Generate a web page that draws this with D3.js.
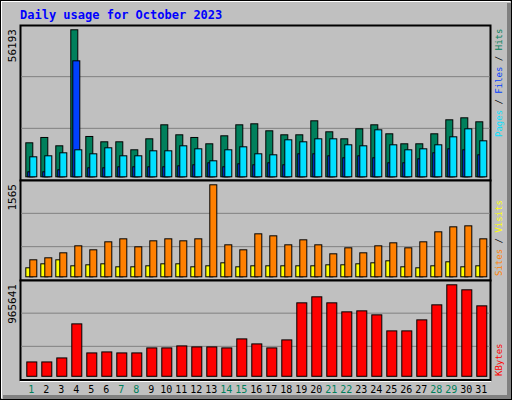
<!DOCTYPE html>
<html><head><meta charset="utf-8">
<script src="https://cdn.jsdelivr.net/npm/d3@7"></script>
<style>body{margin:0;background:#fff}</style>
</head><body><div id="chart"></div>
<script>
// Daily usage, October 2023
let days = d3.range(1, 32);
let weekend = [1,7,8,14,15,21,22,28,29];
let hits = [12995,15033,11848,56193,15415,13377,13377,10319,14524,19874,16052,15033,12613,15670,19874,20257,17581,16052,16052,21403,17199,14524,18346,19874,16435,12613,12613,16435,21785,22550,21021];
let files = [7644,8026,9173,10319,8791,11084,8026,8026,9937,9937,11848,10702,6115,10319,11466,8791,8408,14141,13377,14524,14524,12230,11848,17963,12230,10319,10702,12230,15288,18346,13759];
let pages = [1911,1911,2675,44335,3440,3440,3822,3822,3822,3822,4204,4586,5351,3822,4969,4586,5351,4586,8791,8791,8026,7262,8026,7262,5351,5351,6880,9173,10702,10319,8408];
let sites = [289,323,408,527,459,595,646,510,612,646,612,646,1565,544,459,731,697,544,629,544,391,493,408,527,578,493,595,765,850,867,646];
let visits = [153,221,289,187,204,221,170,170,187,221,221,170,187,238,170,187,187,187,187,187,204,204,221,238,272,170,153,187,255,170,187];
let kbytes = [151530,151530,193820,553270,246680,257250,246680,246680,299540,299540,320690,310110,310110,299540,394690,341830,299540,384120,775290,838710,775290,680130,690700,648420,479270,479270,595560,754140,965641,912720,743570];

let W = 512, H = 400;
let svg = d3.select("#chart").append("svg").attr("width", W).attr("height", H)
  .style("font-family", "'DejaVu Sans Mono', monospace");

// frame with bevel
svg.append("rect").attr("width", W).attr("height", H).attr("fill", "#c0c0c0");
svg.append("path").attr("d", `M1,${H-2}V1H${W-2}`).attr("stroke", "#fff").attr("stroke-width", 2).attr("fill", "none");
svg.append("path").attr("d", `M${W-3},3V${H-3}H3`).attr("stroke", "#808080").attr("stroke-width", 4).attr("fill", "none");
svg.append("rect").attr("x", 0.5).attr("y", 0.5).attr("width", W-1).attr("height", H-1).attr("fill", "none").attr("stroke", "#000");

svg.append("text").attr("x", 20).attr("y", 19).attr("fill", "#0000ff")
  .attr("font-size", 12).attr("font-weight", "bold").text("Daily usage for October 2023");

let x = d3.scaleLinear().domain([1, 31]).range([25.3, 25.3 + 15 * 30]);
let left = 20, right = 490;

function panel(top, bottom, max) {
  svg.append("rect").attr("x", left + 0.5).attr("y", top + 0.5)
    .attr("width", right - left).attr("height", bottom - top)
    .attr("fill", "#c0c0c0").attr("stroke", "#000").attr("stroke-width", 2);
  let h = bottom - top;
  [1, 2].forEach(k => svg.append("line").attr("x1", left + 1).attr("x2", right)
    .attr("y1", top + h * k / 3).attr("y2", top + h * k / 3).attr("stroke", "#808080"));
  svg.append("line").attr("x1", left).attr("x2", right + 1).attr("y1", bottom + 2).attr("y2", bottom + 2).attr("stroke", "#fff");
  svg.append("text").attr("transform", `translate(16,${top + 4}) rotate(-90)`)
    .attr("text-anchor", "end").attr("font-size", 11).text(max);
  return d3.scaleLinear().domain([0, max]).range([bottom - 3.7, top + 4.3]);
}

function bars(data, y, off, w, color) {
  svg.append("g").selectAll("rect").data(data).enter().append("rect")
    .attr("x", (d, i) => x(days[i]) + off + 0.5)
    .attr("y", d => y(d) + 0.5)
    .attr("width", w)
    .attr("height", d => y(0) - y(d))
    .attr("fill", color).attr("stroke", "#000");
}

let y1 = panel(25, 180, d3.max(hits));
bars(hits, y1, 0, 7, "#00805c");
bars(pages, y1, 2, 7, "#0040ff");
bars(files, y1, 4, 7, "#00e0ff");

let y2 = panel(180, 280, d3.max(sites));
bars(visits, y2, 0, 7, "#ffff00");
bars(sites, y2, 4, 7, "#ff8000");

let y3 = panel(280, 379.5, d3.max(kbytes));
bars(kbytes, y3, 1, 10, "#ff0000");

svg.append("g").selectAll("text").data(days).enter().append("text")
  .attr("x", d => x(d) + 6).attr("y", 393).attr("text-anchor", "middle")
  .attr("font-size", 10)
  .attr("fill", d => weekend.includes(d) ? "#00805c" : "#000").text(d => d);

function sideLabel(yEnd, parts) {
  let t = svg.append("text").attr("transform", `translate(502,${yEnd}) rotate(-90)`)
    .attr("font-size", 9);
  parts.forEach(p => t.append("tspan").attr("fill", p[1]).text(p[0]));
}
sideLabel(137, [["Pages", "#00e0ff"], [" / ", "#000"], ["Files", "#0040ff"], [" / ", "#000"], ["Hits", "#00805c"]]);
sideLabel(276, [["Sites", "#ff8000"], [" / ", "#000"], ["Visits", "#ffff00"]]);
sideLabel(376, [["KBytes", "#ff0000"]]);
</script></body></html>
